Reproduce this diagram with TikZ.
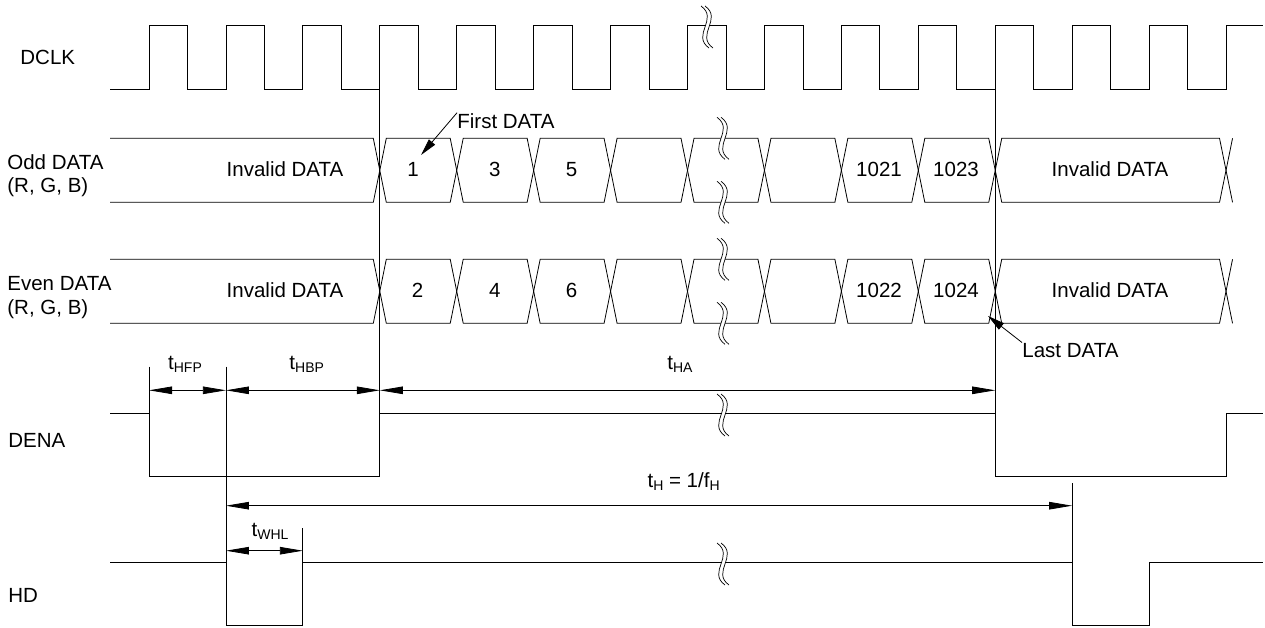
\documentclass[tikz,border=0pt]{standalone}
\usepackage{fontspec}
\setmainfont{Liberation Sans}
\usetikzlibrary{arrows.meta}
\newcommand\tsub[1]{\raisebox{-3.5pt}{\fontsize{14}{14}\selectfont #1}}
\newcommand\brk[2]{%
  \begin{scope}[shift={(#1,#2)}]
    \fill[white] (-4,-21) .. controls (14,-8) and (-14,8) .. (4,21) -- (8,21) .. controls (-10,8) and (18,-8) .. (0,-21) -- cycle;
    \draw[line width=0.7pt] (-4,-21) .. controls (14,-8) and (-14,8) .. (4,21);
    \draw[line width=0.7pt] (0,-21) .. controls (18,-8) and (-10,8) .. (8,21);
  \end{scope}}
\newcommand\busseg[4]{% left x, right x, top, bottom
  \pgfmathsetmacro\bsL{#1}%
  \pgfmathsetmacro\bsR{#2}%
  \pgfmathsetmacro\busmid{(#3+#4)/2}%
  \draw (\bsL,\busmid) -- ({\bsL+6.5},#3) -- ({\bsR-6.5},#3) -- (\bsR,\busmid) -- ({\bsR-6.5},#4) -- ({\bsL+6.5},#4) -- cycle;}
\newcommand\busrow[2]{%
  \pgfmathsetmacro\busmid{(#1+#2)/2}%
  \draw (110,#1) -- ({149+\P*3-6.5},#1) -- ({149+\P*3},\busmid) -- ({149+\P*3-6.5},#2) -- (110,#2);
  \foreach \k in {3,...,10}{%
    \busseg{149+\P*\k}{149+\P*(\k+1)}{#1}{#2}}
  \busseg{149+\P*11}{149+\P*14}{#1}{#2}
  \pgfmathsetmacro\busmid{(#1+#2)/2}%
  \draw ({149+\P*14+6.5},#1) -- ({149+\P*14},\busmid) -- ({149+\P*14+6.5},#2);
}
\begin{document}
\begin{tikzpicture}[x=1pt,y=-1pt,line width=0.8pt,
  lbl/.style={font=\fontsize{20.5}{24}\selectfont,inner sep=0pt},
  dim/.style={{Triangle[length=23pt,width=7.5pt]}-{Triangle[length=23pt,width=7.5pt]}},
  callout/.style={-{Triangle[length=17pt,width=8pt]}}]
\useasboundingbox (0,0) rectangle (1265,627);
\def\P{76.93}
% row labels
\node[lbl,anchor=base west] (lclk) at (20,64) {DCLK};
\node[lbl,anchor=base west] (lodd) at (7,169) {Odd DATA};
\node[lbl,anchor=base west] (loddb) at (7,192.3) {(R, G, B)};
\node[lbl,anchor=base west] (leven) at (7,290.3) {Even DATA};
\node[lbl,anchor=base west] (levenb) at (7,314) {(R, G, B)};
\node[lbl,anchor=base west] (lden) at (8,447.3) {DENA};
\node[lbl,anchor=base west] (lhd) at (8,602.3) {HD};
% DCLK
\draw (110,89.3) \foreach \k in {0,...,13}{ -- ({149+\P*\k},89.3) -- ({149+\P*\k},25) -- ({187.45+\P*\k},25) -- ({187.45+\P*\k},89.3) } -- (1226,89.3) -- (1226,25) -- (1263,25);
% buses
\busrow{138.3}{202.3}
\busrow{259.3}{323.3}
% bus texts
\foreach \t/\x in {Invalid DATA/285,1/413,3/494.7,5/571.6,1021/879,1023/956,Invalid DATA/1110}
  \node[lbl,anchor=base] at (\x,176.5) {\t};
\foreach \t/\x in {Invalid DATA/285,2/417.5,4/494.7,6/571.6,1022/879,1024/956,Invalid DATA/1110}
  \node[lbl,anchor=base] at (\x,297) {\t};
% vertical reference lines
\draw (379.79,57) -- (379.79,476.7);
\draw (995.23,57) -- (995.23,476.7);
\draw (149,366.7) -- (149,413.3);
\draw (225.93,366.7) -- (225.93,562.3);
\draw (302.86,528.3) -- (302.86,562.3);
\draw (1072.16,483) -- (1072.16,562.3);
% DENA
\draw (110,413.3) -- (149,413.3) -- (149,476.7) -- (379.79,476.7) -- (379.79,413.3) -- (995.23,413.3) -- (995.23,476.7) -- (1226,476.7) -- (1226,413.3) -- (1263,413.3);
% HD
\draw (110,562.3) -- (225.93,562.3) -- (225.93,625.7) -- (302.86,625.7) -- (302.86,562.3) -- (1072.16,562.3) -- (1072.16,625.7) -- (1149.09,625.7) -- (1149.09,562.3) -- (1263,562.3);
% breaks
\brk{705}{27}
\brk{721}{138.3}
\brk{721}{202.3}
\brk{721}{259.3}
\brk{721}{323.3}
\brk{721}{415}
\brk{721}{564}
% dimension arrows
\draw[dim] (149,390.3) -- (225.93,390.3);
\draw[dim] (225.93,390.3) -- (379.79,390.3);
\draw[dim] (379.79,390.3) -- (995.23,390.3);
\draw[dim] (225.93,505.7) -- (1072.16,505.7);
\draw[dim] (225.93,550.7) -- (302.86,550.7);
\node[lbl,anchor=base] (thfp) at (185,369) {t\tsub{HFP}};
\node[lbl,anchor=base] (thbp) at (306.7,369) {t\tsub{HBP}};
\node[lbl,anchor=base] (tha) at (680,369) {t\tsub{HA}};
\node[lbl,anchor=base] (th) at (683.6,487) {t\tsub{H} = 1/f\tsub{H}};
\node[lbl,anchor=base] (twhl) at (270,536) {t\tsub{WHL}};
% callouts
\node[lbl,anchor=base west] (first) at (457,128) {First DATA};
\coordinate (firsttip) at (421,155);
\draw[callout] (first.north west) -- (firsttip);
\node[lbl,anchor=base west] (last) at (1022,357) {Last DATA};
\coordinate (lasttip) at (988,316);
\draw[callout] (last.north west) -- (lasttip);
\end{tikzpicture}
\end{document}
